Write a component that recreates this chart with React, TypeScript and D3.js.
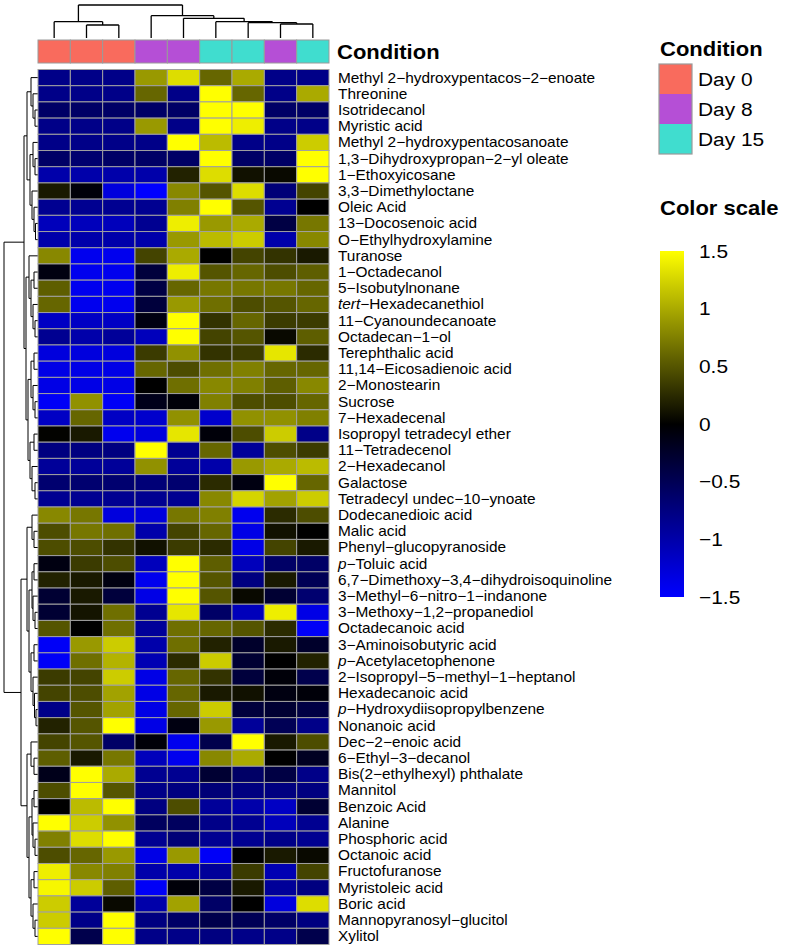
import { useMemo } from "react";
import * as d3 from "d3";

const WIDTH = 787;
const HEIGHT = 951;
const FONT = "'Liberation Sans', Arial, Helvetica, sans-serif";
const SX = 1.1; // the picture's text is a little wider than Arial

// rows, top to bottom (p- and tert- prefixes are drawn in italics)
const rowLabels = [
  "Methyl 2−hydroxypentacos−2−enoate",
  "Threonine",
  "Isotridecanol",
  "Myristic acid",
  "Methyl 2−hydroxypentacosanoate",
  "1,3−Dihydroxypropan−2−yl oleate",
  "1−Ethoxyicosane",
  "3,3−Dimethyloctane",
  "Oleic Acid",
  "13−Docosenoic acid",
  "O−Ethylhydroxylamine",
  "Turanose",
  "1−Octadecanol",
  "5−Isobutylnonane",
  "tert−Hexadecanethiol",
  "11−Cyanoundecanoate",
  "Octadecan−1−ol",
  "Terephthalic acid",
  "11,14−Eicosadienoic acid",
  "2−Monostearin",
  "Sucrose",
  "7−Hexadecenal",
  "Isopropyl tetradecyl ether",
  "11−Tetradecenol",
  "2−Hexadecanol",
  "Galactose",
  "Tetradecyl undec−10−ynoate",
  "Dodecanedioic acid",
  "Malic acid",
  "Phenyl−glucopyranoside",
  "p−Toluic acid",
  "6,7−Dimethoxy−3,4−dihydroisoquinoline",
  "3−Methyl−6−nitro−1−indanone",
  "3−Methoxy−1,2−propanediol",
  "Octadecanoic acid",
  "3−Aminoisobutyric acid",
  "p−Acetylacetophenone",
  "2−Isopropyl−5−methyl−1−heptanol",
  "Hexadecanoic acid",
  "p−Hydroxydiisopropylbenzene",
  "Nonanoic acid",
  "Dec−2−enoic acid",
  "6−Ethyl−3−decanol",
  "Bis(2−ethylhexyl) phthalate",
  "Mannitol",
  "Benzoic Acid",
  "Alanine",
  "Phosphoric acid",
  "Octanoic acid",
  "Fructofuranose",
  "Myristoleic acid",
  "Boric acid",
  "Mannopyranosyl−glucitol",
  "Xylitol",
];

// sample columns, left to right
const colConditions = ["Day 0", "Day 0", "Day 0", "Day 8", "Day 8", "Day 15", "Day 15", "Day 8", "Day 15"];
const conditions = ["Day 0", "Day 8", "Day 15"];
const conditionColors = ["#F96B5D", "#B54FD6", "#40DDCF"];

// scaled values (z-scores), one row per metabolite
const values = [
  [-0.8, -0.8, -0.8, 0.9, 1.3, 0.6, 1.0, -0.8, -0.8],
  [-0.8, -0.8, -0.8, 0.6, -0.8, 1.5, 0.6, -0.8, 1.0],
  [-0.6, -0.6, -0.6, -0.6, -0.6, 1.5, 1.5, -0.6, -0.6],
  [-0.8, -0.8, -0.8, 0.9, -0.8, 1.5, 1.4, -0.8, -0.8],
  [-0.8, -0.8, -0.8, -0.8, 1.5, 1.1, -0.8, -0.8, 1.2],
  [-0.6, -0.65, -0.6, -0.6, -0.6, 1.5, -0.6, -0.6, 1.5],
  [-1.0, -1.0, -1.0, -1.0, 0.2, 1.3, 0.1, 0.05, 1.5],
  [0.15, -0.05, -1.3, -1.5, 0.8, 0.5, 1.3, -0.7, 0.4],
  [-0.85, -0.85, -0.85, -0.85, 0.75, 1.5, 0.5, -0.85, 0.0],
  [-1.1, -1.1, -1.1, -0.85, 1.4, 0.9, 1.0, -0.4, 0.7],
  [-1.0, -1.0, -1.0, -1.0, 0.9, 1.1, 1.2, -1.0, 0.8],
  [0.8, -1.4, -1.4, 0.4, 1.0, 0.0, 0.4, 0.3, 0.15],
  [-0.1, -1.4, -1.4, -0.35, 1.4, 0.5, 0.6, 0.45, 0.55],
  [0.55, -1.4, -1.4, -0.4, 0.6, 0.7, 0.7, 0.7, 0.6],
  [0.6, -1.4, -1.4, -0.35, 0.9, 0.65, 0.45, 0.5, 0.6],
  [-1.15, -1.15, -1.15, -0.1, 1.5, 0.3, 0.6, 0.35, 0.35],
  [-0.85, -1.0, -0.9, -1.1, 1.5, 0.4, 0.5, 0.05, 0.55],
  [-1.3, -1.3, -1.3, 0.35, 0.85, 0.3, 0.35, 1.35, 0.25],
  [-1.35, -1.35, -1.35, 0.6, 0.45, 0.65, 0.75, 0.6, 0.6],
  [-1.35, -1.35, -1.35, 0.0, 0.65, 0.8, 0.75, 0.55, 0.8],
  [-1.45, 0.85, -1.45, -0.15, -0.05, 0.75, 0.45, 0.45, 0.6],
  [-1.15, 0.6, -1.15, -1.2, 0.85, -1.2, 0.85, 0.85, 0.75],
  [0.02, 0.15, -1.4, -1.3, 1.35, -0.05, 0.45, 1.2, -0.8],
  [-0.75, -0.75, -0.75, 1.5, -0.85, 0.6, -0.9, 0.45, 0.35],
  [-0.9, -0.9, -0.9, 0.85, -0.9, -1.0, 0.9, 1.0, 1.1],
  [-0.65, -0.65, -0.65, -0.7, -0.65, 0.25, -0.1, 1.5, 0.6],
  [-0.85, -0.85, -0.85, -0.85, -0.85, 0.8, 1.25, 0.95, 1.2],
  [0.8, 0.7, -1.3, -1.3, 0.7, 0.75, -1.4, 0.25, 0.45],
  [0.45, 0.7, 0.65, -1.0, 0.4, 0.6, -1.35, 0.1, 0.0],
  [0.45, 0.45, 0.3, 0.1, 0.35, 0.25, -1.35, 0.4, 0.15],
  [-0.1, 0.35, 0.45, -1.1, 1.5, 0.55, -1.1, -0.6, -0.6],
  [0.2, 0.15, -0.1, -1.4, 1.5, 0.5, -0.75, 0.15, -0.5],
  [-0.3, 0.15, -0.35, -1.35, 1.5, 0.5, 0.05, -0.3, -0.65],
  [-0.3, 0.12, 0.65, -0.85, 1.35, -0.6, -1.1, 1.4, -1.35],
  [0.5, 0.0, 0.65, -0.9, 0.65, 0.6, 0.5, 0.25, -1.45],
  [-1.45, 0.9, 1.2, -1.0, 0.65, 0.2, -0.25, 0.15, -0.25],
  [-1.45, 0.65, 1.05, -1.05, 0.25, 1.2, -0.3, 0.0, 0.2],
  [0.35, 0.4, 1.2, -1.35, 0.6, 0.3, -0.35, -0.05, -0.45],
  [0.4, 0.45, 0.95, -1.35, 0.6, 0.15, 0.1, -0.1, -0.05],
  [-0.8, 0.5, 0.95, -1.35, 0.6, 1.2, -0.35, -0.3, -0.4],
  [0.2, 0.5, 1.5, -1.35, -0.1, 0.9, -0.9, -0.5, -0.8],
  [0.4, 0.5, -0.6, -0.05, -1.4, -0.45, 1.5, 0.15, 0.45],
  [0.55, 0.15, 0.7, -1.1, -1.4, 0.8, 1.0, 0.0, -0.2],
  [-0.15, 1.5, 1.0, -0.85, -0.85, -0.3, -0.6, -0.4, -0.8],
  [0.45, 1.5, 0.5, -0.8, -0.75, -0.7, -0.75, -0.75, -0.75],
  [0.0, 1.1, 1.5, -0.75, 0.45, -0.9, -1.0, -1.15, -0.3],
  [1.5, 1.2, 0.85, -0.55, -0.55, -0.8, -0.85, -1.1, -0.85],
  [0.75, 1.3, 1.5, -0.85, -0.7, -0.85, -0.85, -0.8, -0.85],
  [0.45, 0.6, 0.9, -1.35, 0.9, -1.45, 0.0, 0.15, 0.05],
  [1.4, 0.8, 0.75, -1.0, -1.0, -0.9, 0.35, -1.05, 0.4],
  [1.45, 1.2, 0.55, -1.45, -0.05, -0.4, 0.15, -0.9, -0.75],
  [1.2, -0.9, 0.05, -1.0, 0.95, -0.6, 0.0, -1.3, 1.3],
  [1.2, -0.8, 1.5, -0.75, -0.6, -0.45, -0.5, -0.6, -0.75],
  [1.5, -0.45, 1.5, -0.8, -0.8, -0.75, -0.8, -0.8, -0.45],
];

// dendrograms: [merge height, left, right], a number is a leaf index
type Node = number | [number, Node, Node];
const colTree: Node = [33, [16.3, 0, [13, 1, 2]], [22.3, 3, [19.7, 4, [16.3, 5, [15.3, 6, [14, 7, 8]]]]]];
const rowTree: Node = [
  34,
  [
    14,
    [11, [7, 0, [5, 1, [3, 2, 3]]], [8, [5, 4, [3, 5, 6]], [6, 7, [4, 8, [2.5, 9, 10]]]]],
    [
      12,
      [9, 11, [7, [4, 12, 13], [5, 14, [3, 15, 16]]]],
      [10, [7, [4, 17, 18], [5, 19, [3, 20, 21]]], [8, [4, 22, 23], [6, 24, [3, 25, 26]]]],
    ],
  ],
  [
    17,
    [11, [6, 27, [4, 28, 29]], [9, [6, [4, 30, 31], [5, 32, [3, 33, 34]]], [7, [4, 35, 36], [5, 37, [3.5, 38, [2, 39, 40]]]]]],
    [11, [7, 41, [4, 42, 43]], [9, [6, [4, 44, 45], [5, 46, [3, 47, 48]]], [7, [4, 49, 50], [5, 51, [3, 52, 53]]]]],
  ],
];

const scaleTicks = [1.5, 1, 0.5, 0, -0.5, -1, -1.5];

// walk a tree and collect elbow segments; pos = leaf coordinate, hgt = height coordinate
const dendroSegments = (tree: Node, pos: (i: number) => number, hgt: (h: number) => number) => {
  const segs: { a1: number; a2: number; b1: number; b2: number }[] = [];
  const walk = (n: Node): { p: number; h: number } => {
    if (typeof n === "number") return { p: pos(n), h: 0 };
    const l = walk(n[1]);
    const r = walk(n[2]);
    // a = leaf axis, b = height axis
    segs.push({ a1: l.p, a2: r.p, b1: hgt(n[0]), b2: hgt(n[0]) });
    segs.push({ a1: l.p, a2: l.p, b1: hgt(n[0]), b2: hgt(l.h) });
    segs.push({ a1: r.p, a2: r.p, b1: hgt(n[0]), b2: hgt(r.h) });
    return { p: (l.p + r.p) / 2, h: n[0] };
  };
  walk(tree);
  return segs;
};

const Label = ({ x, y, text, size = 14, bold = false }: { x: number; y: number; text: string; size?: number; bold?: boolean }) => {
  const m = text.match(/^(p|tert)(−.*)$/);
  return (
    <text
      transform={`translate(${x},${y}) scale(${SX},1)`}
      dy="0.35em"
      fontSize={size}
      fontWeight={bold ? "bold" : "normal"}
      fontFamily={FONT}
      fill="#000"
    >
      {m ? (
        <>
          <tspan fontStyle="italic">{m[1]}</tspan>
          {m[2]}
        </>
      ) : (
        text
      )}
    </text>
  );
};

export default function App() {
  const xScale = useMemo(() => d3.scaleBand<number>().domain(d3.range(9)).range([38, 329]), []);
  const yScale = useMemo(() => d3.scaleBand<number>().domain(d3.range(rowLabels.length)).range([69.5, 944.5]), []);
  const colorScale = d3.scaleLinear<string>().domain([-1.5, 0, 1.5]).range(["#0000FF", "#000000", "#FFFF00"]).clamp(true);
  const condColor = d3.scaleOrdinal<string, string>().domain(conditions).range(conditionColors);
  const barScale = d3.scaleLinear().domain([-1.5, 1.5]).range([597, 251]);

  const colH = d3.scaleLinear().domain([0, 33]).range([38, 5]);
  const rowH = d3.scaleLinear().domain([0, 34]).range([38, 4]);
  const colSegs = dendroSegments(colTree, (i) => xScale(i)! + xScale.bandwidth() / 2, colH);
  const rowSegs = dendroSegments(rowTree, (i) => yScale(i)! + yScale.bandwidth() / 2, rowH);

  const bw = xScale.bandwidth();
  const bh = yScale.bandwidth();
  const gradStops = d3.range(0, 1.0001, 0.05);

  return (
    <svg width={WIDTH} height={HEIGHT} style={{ position: "absolute", left: 0, top: 0, background: "#fff" }}>
      <defs>
        <linearGradient id="scaleGrad" x1="0" y1="1" x2="0" y2="0">
          {gradStops.map((t) => (
            <stop key={t} offset={t} stopColor={colorScale(-1.5 + 3 * t)} />
          ))}
        </linearGradient>
      </defs>
      <rect width={WIDTH} height={HEIGHT} fill="#fff" />

      {/* column dendrogram */}
      <g stroke="#000" strokeWidth={1.3}>
        {colSegs.map((s, i) => (
          <line key={i} x1={s.a1} x2={s.a2} y1={s.b1} y2={s.b2} />
        ))}
      </g>

      {/* row dendrogram */}
      <g stroke="#000" strokeWidth={1}>
        {rowSegs.map((s, i) => (
          <line key={i} y1={s.a1} y2={s.a2} x1={s.b1} x2={s.b2} />
        ))}
      </g>

      {/* condition annotation */}
      <g>
        {colConditions.map((c, j) => (
          <rect key={j} x={xScale(j)} y={40} width={bw} height={23} fill={condColor(c)} stroke="#9a9a9a" strokeWidth={1} />
        ))}
        <Label x={337} y={52} text="Condition" size={20} bold />
      </g>

      {/* heatmap cells */}
      <g>
        {values.map((row, i) =>
          row.map((v, j) => (
            <rect
              key={`${i}-${j}`}
              x={xScale(j)}
              y={yScale(i)}
              width={bw}
              height={bh}
              fill={colorScale(v)}
              stroke="#a0a0a0"
              strokeWidth={1}
            />
          ))
        )}
      </g>

      {/* row labels */}
      <g>
        {rowLabels.map((t, i) => (
          <Label key={i} x={338} y={yScale(i)! + bh / 2} text={t} size={14} />
        ))}
      </g>

      {/* legend: condition */}
      <g>
        <Label x={660} y={49} text="Condition" size={20} bold />
        {conditions.map((c, i) => (
          <g key={c}>
            <rect x={659} y={64 + i * 30} width={33} height={30} fill={condColor(c)} />
            <Label x={698} y={79 + i * 30} text={c} size={19} />
          </g>
        ))}
        <rect x={659} y={64} width={33} height={90} fill="none" stroke="#9a9a9a" strokeWidth={1.2} />
      </g>

      {/* legend: colour scale */}
      <g>
        <Label x={660} y={208} text="Color scale" size={20} bold />
        <rect x={660} y={barScale(1.5)} width={24} height={barScale(-1.5) - barScale(1.5)} fill="url(#scaleGrad)" />
        {scaleTicks.map((v) => (
          <Label key={v} x={699} y={barScale(v)} text={v < 0 ? `−${Math.abs(v)}` : `${v}`} size={19} />
        ))}
      </g>
    </svg>
  );
}
